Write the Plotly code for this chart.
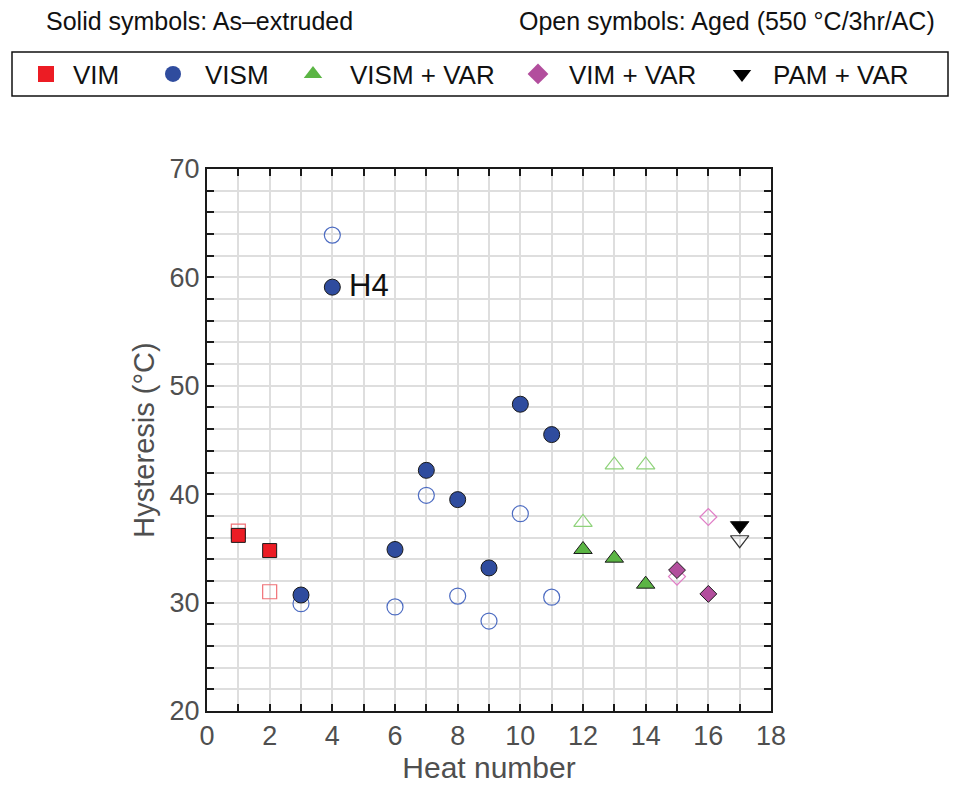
import plotly.graph_objects as go

# ---- data ----
groups = ["VIM", "VISM", "VISM + VAR", "VIM + VAR", "PAM + VAR"]

vim_heat = [1, 2]
vim_extruded = [36.2, 34.8]
vim_aged = [36.6, 31.0]

vism_heat = [3, 4, 6, 7, 8, 9, 10, 11]
vism_extruded = [30.7, 59.1, 34.9, 42.2, 39.5, 33.2, 48.3, 45.5]
vism_aged = [29.9, 63.9, 29.6, 39.9, 30.6, 28.3, 38.2, 30.5]

vismvar_heat = [12, 13, 14]
vismvar_extruded = [34.9, 34.1, 31.7]
vismvar_aged = [37.4, 42.7, 42.7]

vimvar_heat = [15, 16]
vimvar_extruded = [33.0, 30.8]
vimvar_aged = [32.4, 37.9]

pamvar_heat = [17]
pamvar_extruded = [37.1]
pamvar_aged = [35.8]

x_ticks = list(range(0, 19, 2))
y_ticks = list(range(20, 71, 10))

FONT = "Liberation Sans, Arial, sans-serif"

series = [
    ("VIM", vim_heat, vim_extruded, vim_aged, "square", 14, "#ec1c24", "#f07076"),
    ("VISM", vism_heat, vism_extruded, vism_aged, "circle", 16, "#2f4c9e", "#4d6cc2"),
    ("VISM + VAR", vismvar_heat, vismvar_extruded, vismvar_aged, "triangle-up", 16, "#5bb544", "#8ed27a"),
    ("VIM + VAR", vimvar_heat, vimvar_extruded, vimvar_aged, "diamond", 13, "#b24e9d", "#e07ec6"),
    ("PAM + VAR", pamvar_heat, pamvar_extruded, pamvar_aged, "triangle-down", 16, "#000000", "#333333"),
]

fig = go.Figure()

for name, hx, ext, aged, sym, size, col, opencol in series:
    fig.add_trace(go.Scatter(
        x=hx, y=aged, mode="markers", showlegend=False,
        marker=dict(symbol=sym + "-open", size=size, color=opencol, line=dict(width=1.2, color=opencol)),
    ))
    fig.add_trace(go.Scatter(
        x=hx, y=ext, mode="markers", showlegend=False,
        marker=dict(symbol=sym, size=size, color=col, line=dict(width=1, color="#1a1a1a")),
    ))

# legend entries, each in its own legend for exact placement
legend_text_px = [73, 205, 350, 569, 773]
legend_itemwidth = [44, 54, 64, 52, 52]
legend_layout = {}
for i, (name, hx, ext, aged, sym, size, col, opencol) in enumerate(series):
    key = "legend" if i == 0 else f"legend{i+1}"
    fig.add_trace(go.Scatter(
        x=[None], y=[None], mode="markers", name=name, legend=key, showlegend=True,
        marker=dict(symbol=sym, size=16, color=col, line=dict(width=0)),
    ))
    iw = legend_itemwidth[i]
    xpx = legend_text_px[i] - iw - 10
    legend_layout[key] = dict(
        x=(xpx - 207) / 564, xanchor="left", y=(711 - 74) / 542, yanchor="middle",
        xref="paper", yref="paper", bgcolor="rgba(0,0,0,0)", borderwidth=0,
        itemwidth=iw, font=dict(family=FONT, size=26, color="#111111"),
        orientation="h",
    )

fig.update_layout(**legend_layout)

# legend frame
fig.add_shape(type="rect", xref="paper", yref="paper",
              x0=(12 - 207) / 564, x1=(948 - 207) / 564,
              y0=(711 - 96) / 542, y1=(711 - 52) / 542,
              line=dict(color="#111111", width=1.5), fillcolor="rgba(0,0,0,0)")

fig.add_annotation(text="Solid symbols: As\u2013extruded", xref="paper", yref="paper",
                   x=(44 - 207) / 564, y=(711 - 21) / 542, xanchor="left", yanchor="middle",
                   showarrow=False, font=dict(family=FONT, size=25, color="#111111"))
fig.add_annotation(text="Open symbols: Aged (550 \u00b0C/3hr/AC)", xref="paper", yref="paper",
                   x=(937 - 207) / 564, y=(711 - 21) / 542, xanchor="right", yanchor="middle",
                   showarrow=False, font=dict(family=FONT, size=25, color="#111111"))

fig.add_annotation(text="H4", x=4, y=59.1, xref="x", yref="y", xanchor="left", yanchor="middle",
                   xshift=15, yshift=2, showarrow=False, font=dict(family=FONT, size=31, color="#111111"))

axis_common = dict(
    showline=True, linecolor="#1a1a1a", linewidth=2, mirror="ticks",
    ticks="inside", ticklen=7, tickwidth=1.5, tickcolor="#1a1a1a",
    showgrid=True, gridcolor="#dedede", gridwidth=2, zeroline=False,
    tickfont=dict(family=FONT, size=27, color="#4f4f4f"),
)

fig.update_xaxes(
    range=[0, 18], tickvals=x_ticks, ticktext=[str(v) for v in x_ticks],
    minor=dict(dtick=1, ticks="inside", ticklen=7, tickcolor="#1a1a1a", showgrid=True,
               gridcolor="#dedede", gridwidth=2),
    title=dict(text="Heat number", font=dict(family=FONT, size=30, color="#4f4f4f"), standoff=3),
    **axis_common,
)
fig.update_yaxes(
    range=[20, 70], tickvals=y_ticks, ticktext=[str(v) for v in y_ticks],
    minor=dict(dtick=2, ticks="inside", ticklen=7, tickcolor="#1a1a1a", showgrid=True,
               gridcolor="#dedede", gridwidth=2),
    title=dict(text="Hysteresis (\u00b0C)", font=dict(family=FONT, size=29, color="#4f4f4f"), standoff=6),
    **axis_common,
)

fig.update_layout(
    width=959, height=787,
    margin=dict(l=207, r=188, t=169, b=76, autoexpand=False),
    paper_bgcolor="white", plot_bgcolor="white",
    font=dict(family=FONT),
)

fig.write_html("out.html")
